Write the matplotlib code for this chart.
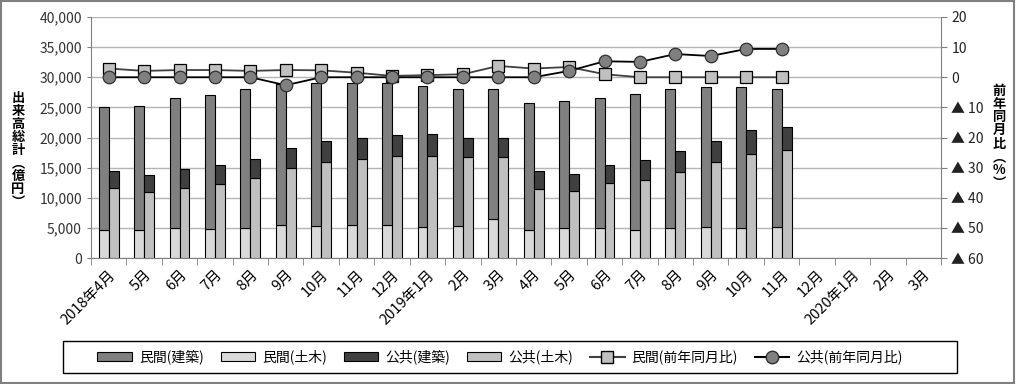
import numpy as np
import matplotlib
matplotlib.use('Agg')
import matplotlib.pyplot as plt
from matplotlib.patches import Rectangle, Patch
from matplotlib.lines import Line2D

plt.rcParams['font.family'] = ['Noto Sans CJK JP', 'DejaVu Sans']

# month labels (2018/4 .. 2020/3)
months = ['2018年4月', '5月', '6月', '7月', '8月', '9月', '10月', '11月', '12月',
          '2019年1月', '2月', '3月', '4月', '5月', '6月', '7月', '8月', '9月', '10月',
          '11月', '12月', '2020年1月', '2月', '3月']

# 億円, data available for first 20 months
min_kenchiku = [20360, 20510, 21580, 22350, 23070, 23400, 23850, 23700, 23600, 23400,
                22720, 21570, 21050, 21100, 21700, 22700, 23070, 23200, 23400, 23000]
min_doboku = [4640, 4640, 4920, 4750, 4900, 5400, 5250, 5400, 5400, 5100,
              5250, 6400, 4600, 4900, 4900, 4600, 4900, 5100, 4900, 5100]
kou_kenchiku = [2950, 2800, 3000, 3200, 3200, 3300, 3450, 3350, 3500, 3500,
                3300, 3150, 3100, 2940, 3100, 3300, 3500, 3600, 4000, 3850]
kou_doboku = [11550, 10900, 11700, 12200, 13200, 14900, 15900, 16500, 16850, 17000,
              16700, 16700, 11400, 11060, 12400, 12900, 14200, 15900, 17200, 17950]

# 前年同月比 (%)
min_yoy = [2.9, 2.1, 2.4, 2.4, 2.1, 2.4, 2.3, 1.5, 0.45, 0.7,
           1.0, 3.75, 2.9, 3.4, 1.0, 0.0, 0.0, 0.0, 0.0, 0.0]
kou_yoy = [0.0, 0.0, 0.0, 0.0, 0.0, -2.65, 0.0, 0.0, 0.0, 0.0,
           0.0, 0.0, 0.0, 2.1, 5.3, 5.1, 7.7, 7.05, 9.4, 9.4]

c_mk, c_md, c_kk, c_kd = '#808080', '#d9d9d9', '#404040', '#c0c0c0'
grid_c = '#b4b4b4'

fig = plt.figure(figsize=(10.16, 3.84), dpi=100)
ax = fig.add_axes([91/1016, 1 - 258/384, 850/1016, 241/384])

n = len(min_kenchiku)
x = np.arange(n)
w = 0.28
ax.bar(x - w/2, min_doboku, w, color=c_md, edgecolor='black', linewidth=0.8, zorder=3)
ax.bar(x - w/2, min_kenchiku, w, bottom=min_doboku, color=c_mk, edgecolor='black',
       linewidth=0.8, zorder=3)
ax.bar(x + w/2, kou_doboku, w, color=c_kd, edgecolor='black', linewidth=0.8, zorder=3)
ax.bar(x + w/2, kou_kenchiku, w, bottom=kou_doboku, color=c_kk, edgecolor='black',
       linewidth=0.8, zorder=3)

ax.set_xlim(-0.5, len(months) - 0.5)
ax.set_ylim(0, 40000)
ax.set_yticks(np.arange(0, 40001, 5000))
ax.set_yticklabels(['{:,}'.format(v) for v in range(0, 40001, 5000)])
ax.yaxis.grid(True, color=grid_c, linewidth=1, zorder=0)
ax.set_axisbelow(True)

ax.set_xticks(np.arange(len(months)))
ax.set_xticklabels(months, rotation=45, ha='right', rotation_mode='anchor', fontsize=10.5)
ax.set_xticks(np.arange(len(months) + 1) - 0.5, minor=True)
ax.tick_params(axis='x', which='major', length=0, pad=7)
ax.tick_params(axis='x', which='minor', length=5, color='#808080', direction='out')
ax.tick_params(axis='y', length=3, color='#808080', labelsize=10, labelcolor='#333333')
for s in ['top', 'right']:
    ax.spines[s].set_visible(False)
for s in ['left', 'bottom']:
    ax.spines[s].set_color('#808080')

ax2 = ax.twinx()
ax2.set_ylim(-60, 20)
rt = np.arange(-60, 21, 10)
ax2.set_yticks(rt)
ax2.set_yticklabels([str(v) if v >= 0 else '▲ ' + str(-v) for v in rt])
ax2.tick_params(axis='y', length=4, color='#808080', labelsize=10, labelcolor='#222222')
for s in ['top', 'left', 'bottom']:
    ax2.spines[s].set_visible(False)
ax2.spines['right'].set_color('#808080')

ax2.plot(x, min_yoy, color='#404040', linewidth=1.3, marker='s', markersize=8.5,
         markerfacecolor=c_kd, markeredgecolor='black', markeredgewidth=0.9, zorder=4)
ax2.plot(x, kou_yoy, color='black', linewidth=1.3, marker='o', markersize=9,
         markerfacecolor=c_mk, markeredgecolor='#303030', markeredgewidth=0.9, zorder=5)

fig.text(18/1016, 1 - 150/384, '\n'.join('出来高総計︵億円︶'), ha='center', va='center',
         fontsize=9.5, fontweight='bold', linespacing=0.92)
fig.text(999/1016, 1 - 137/384, '\n'.join('前年同月比︵%︶'), ha='center', va='center',
         fontsize=9.5, fontweight='bold', linespacing=0.92)

# legend
handles = [Patch(facecolor=c_mk, edgecolor='black', linewidth=0.8),
           Patch(facecolor=c_md, edgecolor='black', linewidth=0.8),
           Patch(facecolor=c_kk, edgecolor='black', linewidth=0.8),
           Patch(facecolor=c_kd, edgecolor='black', linewidth=0.8),
           Line2D([], [], color='#404040', marker='s', markersize=8.5, markerfacecolor=c_kd,
                  markeredgecolor='black'),
           Line2D([], [], color='black', marker='o', markersize=9, markerfacecolor=c_mk,
                  markeredgecolor='#303030')]
labels = ['民間(建築)', '民間(土木)', '公共(建築)', '公共(土木)', '民間(前年同月比)', '公共(前年同月比)']
fig.legend(handles, labels, loc='center', bbox_to_anchor=(500/1016, 1 - 357/384), ncol=6,
           frameon=False, fontsize=10, handlelength=2.5, handleheight=0.6,
           columnspacing=1.2, handletextpad=0.5)
fig.patches.append(Rectangle((63/1016, 1 - 373/384), 894/1016, 32/384, transform=fig.transFigure,
                             fill=False, edgecolor='black', linewidth=1))
fig.patches.append(Rectangle((0.001, 0.003), 0.997, 0.994, transform=fig.transFigure,
                             fill=False, edgecolor='#808080', linewidth=1.5))

fig.savefig('out.png', dpi=100)
